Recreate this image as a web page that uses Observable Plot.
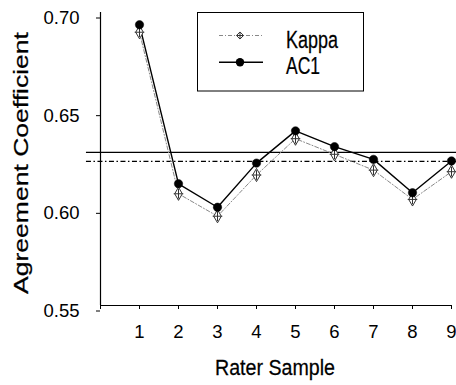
<!DOCTYPE html>
<html>
<head>
<meta charset="utf-8">
<script src="https://cdn.jsdelivr.net/npm/d3@7"></script>
<script src="https://cdn.jsdelivr.net/npm/@observablehq/plot@0.6"></script>
<style>
  html, body { margin: 0; padding: 0; background: #fff; }
  svg { display: block; }
</style>
</head>
<body>
<div id="chart"></div>
<script>
const raterSample = [1, 2, 3, 4, 5, 6, 7, 8, 9];
const kappa = [0.6899, 0.6072, 0.5957, 0.6168, 0.6354, 0.6274, 0.6193, 0.6043, 0.6185];
const ac1   = [0.6937, 0.6123, 0.6003, 0.6229, 0.6394, 0.6313, 0.6248, 0.6077, 0.6240];
const kappaMean = 0.6238;
const ac1Mean = 0.6284;
const yTicks = [0.55, 0.60, 0.65, 0.70];
const xTicks = [0, 1, 2, 3, 4, 5, 6, 7, 8, 9];
const seriesNames = ["Kappa", "AC1"];
const xTitle = "Rater Sample";
const yTitle = "Agreement Coefficient";

const kData = raterSample.map((r, i) => ({x: r, y: kappa[i]}));
const aData = raterSample.map((r, i) => ({x: r, y: ac1[i]}));

const FONT = "'Liberation Sans', Arial, Helvetica, sans-serif";

const plot = Plot.plot({
  width: 456,
  height: 385,
  marginLeft: 100,
  marginRight: 5,
  marginTop: 12,
  marginBottom: 80,
  style: {fontFamily: FONT, fontSize: "18.5px", color: "#000", background: "#fff", overflow: "visible"},
  x: {domain: [0, 9], axis: null},
  y: {domain: [0.55, 0.70], axis: null},
  marks: [
    Plot.axisY({ticks: yTicks, tickFormat: d3.format(".2f"), tickSize: 4, tickPadding: 17, dy: 5.5, label: null, fontSize: 18.5, stroke: "#000"}),
    Plot.axisX({ticks: xTicks, tickFormat: d => d === 0 ? "" : String(d), tickSize: 4, tickPadding: 15, label: null, fontSize: 18.5, stroke: "#000"}),
    Plot.ruleX([0], {y1: 0.55, y2: 0.70, stroke: "#000", strokeWidth: 1.2}),
    Plot.ruleY([0.55], {x1: 0, x2: 9, stroke: "#000", strokeWidth: 1.2}),
    Plot.ruleY([ac1Mean], {x1: -0.36, x2: 9.2, stroke: "#000", strokeWidth: 1.2}),
    Plot.ruleY([kappaMean], {x1: -0.36, x2: 9.2, stroke: "#000", strokeWidth: 1.2, strokeDasharray: "5,2.5,1.5,2.5"}),
    Plot.line(kData, {x: "x", y: "y", stroke: "#888", strokeWidth: 1, strokeDasharray: "4,2,1,2"}),
    Plot.line(aData, {x: "x", y: "y", stroke: "#000", strokeWidth: 1.4}),
    Plot.dot(kData, {x: "x", y: "y", symbol: "diamond", r: 4, fill: "#fff", stroke: "#333", strokeWidth: 1}),
    Plot.dot(kData, {x: "x", y: "y", symbol: "plus", r: 3.2, stroke: "#333", strokeWidth: 1}),
    Plot.dot(aData, {x: "x", y: "y", r: 4.2, fill: "#000", stroke: "#000", strokeWidth: 0.5})
  ]
});

document.getElementById("chart").appendChild(plot);

const svg = d3.select(plot);

function fittedText(parent, str, x, y, size, target, anchor, rotate) {
  const g = parent.append("g");
  const t = g.append("text")
    .attr("x", 0).attr("y", 0)
    .attr("text-anchor", anchor)
    .attr("font-family", FONT)
    .attr("font-size", size)
    .attr("fill", "#000")
    .attr("stroke", "#000")
    .attr("stroke-width", 0.25)
    .text(str);
  const natural = t.node().getComputedTextLength() || target;
  const sx = target / natural;
  g.attr("transform", `translate(${x},${y})${rotate ? ` rotate(${rotate})` : ""} scale(${sx},1)`);
  return g;
}

// Axis titles
fittedText(svg, xTitle, 275, 375, 22, 120, "middle");
fittedText(svg, yTitle, 28, 163, 21, 262, "middle", -90);

// Legend
const lg = svg.append("g");
lg.append("rect")
  .attr("x", 197.5).attr("y", 12.5).attr("width", 166).attr("height", 78.5)
  .attr("fill", "#fff").attr("stroke", "#000").attr("stroke-width", 1);

const rows = [
  {name: seriesNames[0], y: 35.5, base: 48.3, len: 52},
  {name: seriesNames[1], y: 62.3, base: 74.2, len: 34}
];
lg.append("line").attr("x1", 219).attr("x2", 263).attr("y1", rows[0].y).attr("y2", rows[0].y)
  .attr("stroke", "#888").attr("stroke-width", 1).attr("stroke-dasharray", "4,2,1,2");
lg.append("path").attr("d", d3.symbol(d3.symbolDiamond2, 4 * 4 * 2)())
  .attr("transform", `translate(240,${rows[0].y})`)
  .attr("fill", "#fff").attr("stroke", "#333");
lg.append("path").attr("d", d3.symbol(d3.symbolPlus, 3.2 * 3.2 * 1.5)())
  .attr("transform", `translate(240,${rows[0].y})`)
  .attr("fill", "none").attr("stroke", "#333");
lg.append("line").attr("x1", 219).attr("x2", 263).attr("y1", rows[1].y).attr("y2", rows[1].y)
  .attr("stroke", "#000").attr("stroke-width", 1.4);
lg.append("circle").attr("cx", 240).attr("cy", rows[1].y).attr("r", 4.2).attr("fill", "#000");

rows.forEach(r => fittedText(lg, r.name, 286, r.base, 24.5, r.len, "start"));
</script>
</body>
</html>
